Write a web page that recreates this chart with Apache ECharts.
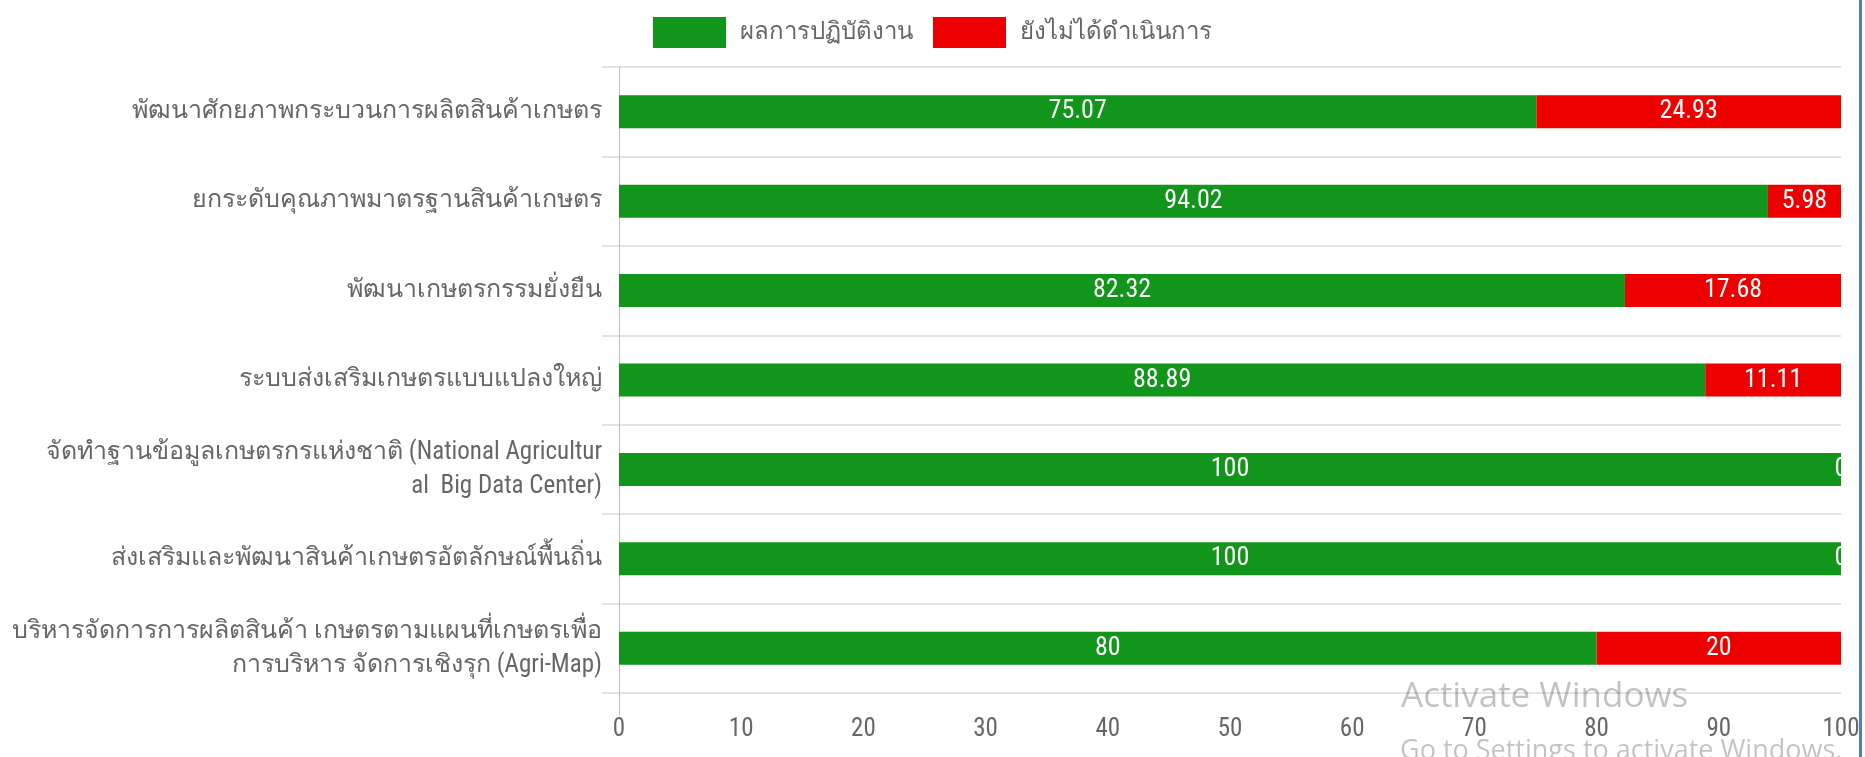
<!DOCTYPE html>
<html><head><meta charset="utf-8">
<script src="https://cdn.jsdelivr.net/npm/echarts@6/dist/echarts.min.js"></script>
<style>html,body{margin:0;padding:0;background:#fff}#c{width:1865px;height:757px}</style>
</head><body><div id="c"></div>
<script>
const categories = [
  'พัฒนาศักยภาพกระบวนการผลิตสินค้าเกษตร',
  'ยกระดับคุณภาพมาตรฐานสินค้าเกษตร',
  'พัฒนาเกษตรกรรมยั่งยืน',
  'ระบบส่งเสริมเกษตรแบบแปลงใหญ่',
  'จัดทำฐานข้อมูลเกษตรกรแห่งชาติ (National Agricultur\nal  Big Data Center)',
  'ส่งเสริมและพัฒนาสินค้าเกษตรอัตลักษณ์พื้นถิ่น',
  'บริหารจัดการการผลิตสินค้า เกษตรตามแผนที่เกษตรเพื่อ\nการบริหาร จัดการเชิงรุก (Agri-Map)'
];
const seriesNames = ['ผลการปฏิบัติงาน', 'ยังไม่ได้ดำเนินการ'];
const doneValues = [75.07, 94.02, 82.32, 88.89, 100, 100, 80];
const pendingValues = [24.93, 5.98, 17.68, 11.11, 0, 0, 20];
const xMin = 0, xMax = 100, xStep = 10;

const FONT = "'Roboto Condensed', sans-serif";
const chart = echarts.init(document.getElementById('c'));
chart.setOption({
  animation: false,
  backgroundColor: '#fff',
  legend: {
    left: 'center', top: 12,
    itemWidth: 73, itemHeight: 31, itemGap: 20,
    icon: 'rect',
    textStyle: { color: '#666', fontSize: 24, fontFamily: FONT, padding: [0, 0, 0, 9] },
    data: seriesNames
  },
  grid: { left: 619, right: 24, top: 67, bottom: 64, containLabel: false, outerBoundsMode: 'none' },
  xAxis: {
    type: 'value', min: xMin, max: xMax, interval: xStep,
    axisLine: { show: false },
    axisTick: { show: true, customValues: [xMin], length: 22, lineStyle: { color: '#bdbdbd', width: 1 } },
    splitLine: { show: true, lineStyle: { color: '#e3e3e3', width: 1 } },
    axisLabel: { color: '#666', fontSize: 25, fontFamily: FONT, margin: 24 }
  },
  yAxis: {
    type: 'category', inverse: true, data: categories,
    axisLine: { show: true, lineStyle: { color: '#bdbdbd', width: 1 } },
    axisTick: { show: true, length: 17, interval: 0, lineStyle: { color: '#e3e3e3', width: 2 } },
    splitLine: { show: true, interval: 0, lineStyle: { color: '#e3e3e3', width: 2 } },
    axisLabel: { color: '#666', fontSize: 25, fontFamily: FONT, margin: 17, interval: 0, lineHeight: 34, align: 'right' }
  },
  series: [
    {
      name: seriesNames[0], type: 'bar', stack: 's', data: doneValues,
      barWidth: 33,
      itemStyle: { color: '#11961b' },
      label: { show: true, position: 'inside', color: '#fff', fontSize: 26, fontFamily: FONT }
    },
    {
      name: seriesNames[1], type: 'bar', stack: 's', data: pendingValues,
      barWidth: 33,
      itemStyle: { color: '#ee0000' },
      label: { show: true, position: 'inside', color: '#fff', fontSize: 26, fontFamily: FONT }
    }
  ],
  graphic: [
    { type: 'rect', left: 1859, top: 0, shape: { width: 3, height: 757 }, style: { fill: '#4f7fbf' }, z: 100 },
    { type: 'text', left: 1401, top: 680, z: 100, style: { text: 'Activate Windows', fill: 'rgba(0,0,0,0.24)', font: "35px 'Open Sans', 'Noto Sans', sans-serif" } },
    { type: 'text', left: 1400, top: 738, z: 100, style: { text: 'Go to Settings to activate Windows.', fill: 'rgba(0,0,0,0.24)', font: "27px 'Open Sans', 'Noto Sans', sans-serif" } }
  ]
});
</script></body></html>
